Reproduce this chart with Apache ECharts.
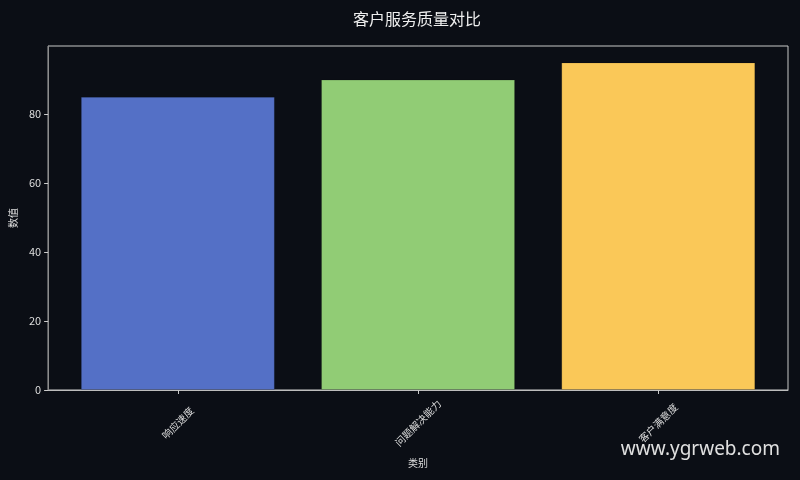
<!DOCTYPE html>
<html>
<head>
<meta charset="utf-8">
<script src="https://cdn.jsdelivr.net/npm/echarts@6/dist/echarts.min.js"></script>
<style>
html,body{margin:0;padding:0;background:#0b0e15;}
#main{width:800px;height:480px;}
</style>
</head>
<body>
<div id="main"></div>
<script>
const categories = ['响应速度', '问题解决能力', '客户满意度'];
const values = [85, 90, 95];
const colors = ['#5470c6', '#91cc75', '#fac858'];
const yTicks = [0, 20, 40, 60, 80];

const font = '"Noto Sans CJK SC", "Noto Sans", sans-serif';
const chart = echarts.init(document.getElementById('main'));
chart.setOption({
  backgroundColor: '#0b0e15',
  animation: false,
  title: {
    text: '客户服务质量对比',
    left: 412, top: 6, textAlign: 'center',
    textStyle: { color: '#eeeeee', fontSize: 16, fontWeight: 'normal', fontFamily: font }
  },
  grid: {
    left: 46, right: 12, top: 46, bottom: 90,
    show: true, borderColor: '#c8c8c8', borderWidth: 1, backgroundColor: 'transparent'
  },
  xAxis: {
    type: 'value', min: -0.54, max: 2.54,
    name: '类别', nameLocation: 'middle', nameGap: 68,
    nameTextStyle: { color: '#dddddd', fontSize: 10, fontFamily: font },
    axisLine: { show: true, onZero: false, lineStyle: { color: '#bdbdbd' } },
    splitLine: { show: false },
    axisTick: { show: true, customValues: [0, 1, 2], length: 4, lineStyle: { color: '#cccccc' } },
    axisLabel: {
      customValues: [0, 1, 2], rotate: 45, align: 'center', verticalAlign: 'middle',
      color: '#dddddd', fontSize: 10, fontFamily: font, margin: 33,
      formatter: v => categories[Math.round(v)]
    }
  },
  yAxis: {
    type: 'value', min: 0, max: 99.75,
    name: '数值', nameLocation: 'middle', nameGap: 28,
    nameTextStyle: { color: '#dddddd', fontSize: 10, fontFamily: font },
    axisLine: { show: true, onZero: false, lineStyle: { color: '#8c8c8c' } },
    splitLine: { show: false },
    axisTick: { show: true, customValues: yTicks, length: 4, lineStyle: { color: '#cccccc' } },
    axisLabel: { customValues: yTicks, color: '#dddddd', fontSize: 11, fontFamily: font, margin: 7 }
  },
  graphic: [{
    type: 'text', right: 20, top: 440,
    style: { text: 'www.ygrweb.com', fill: '#e0e0e0', fontSize: 19, fontFamily: '"Noto Sans", sans-serif' }
  }],
  series: [{
    type: 'bar',
    barWidth: 194,
    data: values.map((v, i) => ({ value: [i, v], itemStyle: { color: colors[i] } })),
    itemStyle: { borderColor: 'rgba(0,0,0,0.15)', borderWidth: 1 }
  }]
});
</script>
</body>
</html>
